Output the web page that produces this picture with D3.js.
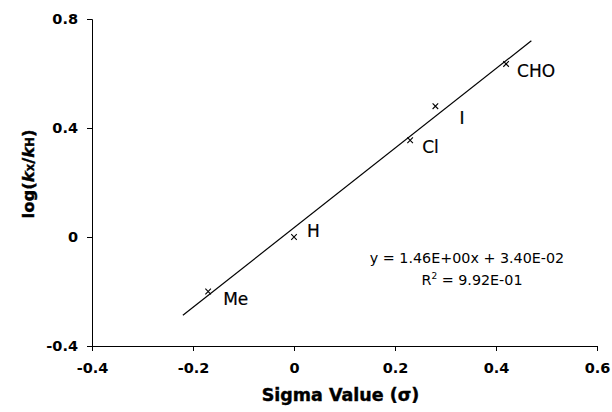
<!DOCTYPE html>
<html>
<head>
<meta charset="utf-8">
<script src="https://cdn.jsdelivr.net/npm/d3@7"></script>
<style>
  html, body { margin: 0; padding: 0; background: #fff; }
  svg { display: block; font-family: "DejaVu Sans", Verdana, sans-serif; }
</style>
</head>
<body>
<div id="chart"></div>
<script>
// substituent sigma values vs log(kX/kH)
const labels = ['Me', 'H', 'Cl', 'I', 'CHO'];
const sigma = [-0.17, 0.0, 0.23, 0.28, 0.42];
const logRatio = [-0.20, 0.0, 0.355, 0.48, 0.635];

// trendline as reported on the chart
const slope = 1.46;
const intercept = 0.034;
const fitRange = [-0.22, 0.47];
const eqText = 'y = 1.46E+00x + 3.40E-02';
const r2Value = '9.92E-01';

const xTicks = [-0.4, -0.2, 0, 0.2, 0.4, 0.6];
const yTicks = [-0.4, 0, 0.4, 0.8];

const width = 612, height = 412;
const margin = { top: 19, right: 15, bottom: 66, left: 92 };

const svg = d3.select('#chart').append('svg')
  .attr('width', width)
  .attr('height', height);

const x = d3.scaleLinear().domain([-0.4, 0.6]).range([margin.left, width - margin.right]);
const y = d3.scaleLinear().domain([-0.4, 0.8]).range([height - margin.bottom, margin.top]);

const fmt = d => d === 0 ? '0' : String(d);

// axes
const xAxis = svg.append('g')
  .attr('transform', `translate(0,${y(-0.4)})`)
  .call(d3.axisBottom(x).tickValues(xTicks).tickFormat(fmt).tickSize(5).tickPadding(10));

const yAxis = svg.append('g')
  .attr('transform', `translate(${x(-0.4)},0)`)
  .call(d3.axisLeft(y).tickValues(yTicks).tickFormat(fmt).tickSize(5).tickPadding(9));

[xAxis, yAxis].forEach(g => {
  g.select('.domain').attr('stroke', '#000').attr('stroke-width', 1);
  g.selectAll('.tick line').attr('stroke', '#000');
  g.selectAll('.tick text')
    .attr('fill', '#000')
    .style('font-family', '"DejaVu Sans", Verdana, sans-serif')
    .style('font-size', '14.5px')
    .style('font-weight', 'bold');
});
xAxis.selectAll('.tick text').attr('dy', '0.85em');

// axis titles
svg.append('text')
  .attr('x', (x(-0.4) + x(0.6)) / 2 - 4)
  .attr('y', 401)
  .attr('text-anchor', 'middle')
  .style('font-size', '17.5px')
  .style('font-weight', 'bold')
  .attr('stroke', '#000')
  .attr('stroke-width', 0.4)
  .text('Sigma Value (σ)');

const yt = svg.append('text')
  .attr('transform', `translate(34,174) rotate(-90)`)
  .attr('text-anchor', 'middle')
  .style('font-size', '16.5px')
  .style('font-weight', 'bold')
  .attr('stroke', '#000')
  .attr('stroke-width', 0.4);
yt.append('tspan').text('log(');
yt.append('tspan').style('font-style', 'italic').text('k');
yt.append('tspan').style('font-size', '11.5px').text('x');
yt.append('tspan').text('/');
yt.append('tspan').style('font-style', 'italic').text('k');
yt.append('tspan').style('font-size', '11.5px').text('H');
yt.append('tspan').text(')');

// trendline
svg.append('line')
  .attr('x1', x(fitRange[0]))
  .attr('y1', y(slope * fitRange[0] + intercept))
  .attr('x2', x(fitRange[1]))
  .attr('y2', y(slope * fitRange[1] + intercept))
  .attr('stroke', '#000')
  .attr('stroke-width', 1.2);

// markers
const pts = sigma.map((s, i) => ({ s, v: logRatio[i], label: labels[i] }));
const cross = d3.symbol().type(d3.symbolX).size(22);
svg.append('g').selectAll('path')
  .data(pts)
  .enter().append('path')
  .attr('d', cross)
  .attr('transform', d => `translate(${x(d.s)},${y(d.v)})`)
  .attr('fill', 'none')
  .attr('stroke', '#000')
  .attr('stroke-width', 1.1);

// point labels (offsets in px from each marker)
const labelOffset = { Me: [15, 13], H: [13, 0], Cl: [12, 13], I: [24, 18], CHO: [11, 13] };
svg.append('g').selectAll('text')
  .data(pts)
  .enter().append('text')
  .attr('x', d => x(d.s) + labelOffset[d.label][0])
  .attr('y', d => y(d.v) + labelOffset[d.label][1])
  .style('font-size', '17px')
  .attr('stroke', '#000')
  .attr('stroke-width', 0.2)
  .text(d => d.label);

// equation box
svg.append('text')
  .attr('x', 467)
  .attr('y', 263)
  .attr('text-anchor', 'middle')
  .style('font-size', '14.3px')
  .text(eqText);

const r2 = svg.append('text')
  .attr('x', 472)
  .attr('y', 285)
  .attr('text-anchor', 'middle')
  .style('font-size', '14.3px');
r2.append('tspan').text('R');
r2.append('tspan').attr('dy', -6).style('font-size', '9px').text('2');
r2.append('tspan').attr('dy', 6).text(' = ' + r2Value);
</script>
</body>
</html>
